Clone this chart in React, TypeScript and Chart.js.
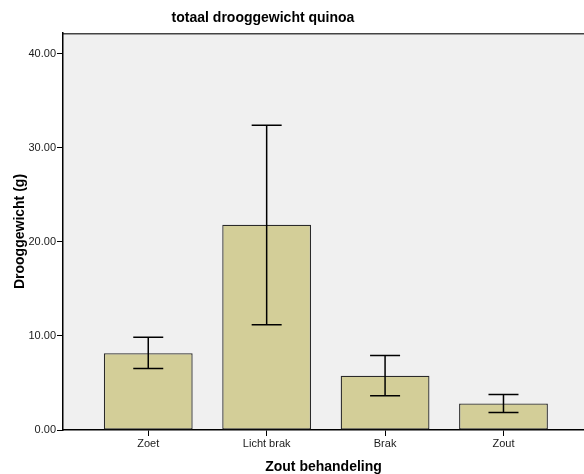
import React, { useEffect, useRef } from 'react';
import { Chart, registerables } from 'chart.js';

Chart.register(...registerables);

const chartTitle = 'totaal drooggewicht quinoa';
const xTitle = 'Zout behandeling';
const yTitle = 'Drooggewicht (g)';

const categories = ['Zoet', 'Licht brak', 'Brak', 'Zout'];
const means = [8.17, 21.83, 5.77, 2.82];
const errUpper = [9.87, 32.4, 7.93, 3.78];
const errLower = [6.54, 11.19, 3.64, 1.86];
const yTicks = [0, 10, 20, 30, 40];

const FONT = "'Liberation Sans', Arial, sans-serif";

export default function App() {
  const ref = useRef<HTMLCanvasElement>(null);

  useEffect(() => {
    document.body.style.margin = '0';
    document.body.style.overflow = 'hidden';
    const canvas = ref.current;
    if (!canvas) return;

    const background = {
      id: 'plotBackground',
      beforeDraw(chart: any) {
        const { ctx, chartArea } = chart;
        const { left, top, right, bottom } = chartArea;
        ctx.save();
        ctx.fillStyle = '#ffffff';
        ctx.fillRect(0, 0, chart.width, chart.height);
        ctx.fillStyle = '#f0f0f0';
        ctx.fillRect(left, top, right - left, bottom - top);
        ctx.strokeStyle = '#444444';
        ctx.lineWidth = 1.5;
        ctx.beginPath();
        ctx.moveTo(left, top + 0.75);
        ctx.lineTo(right, top + 0.75);
        ctx.stroke();
        ctx.restore();
      },
    };

    const errorBars = {
      id: 'errorBars',
      afterDatasetsDraw(chart: any) {
        const { ctx } = chart;
        const xs = chart.scales.x;
        const ys = chart.scales.y;
        ctx.save();
        ctx.strokeStyle = '#000000';
        ctx.lineWidth = 1.5;
        const cap = 15;
        categories.forEach((_, i) => {
          const x = xs.getPixelForValue(i);
          const yt = ys.getPixelForValue(errUpper[i]);
          const yb = ys.getPixelForValue(errLower[i]);
          ctx.beginPath();
          ctx.moveTo(x, yt);
          ctx.lineTo(x, yb);
          ctx.moveTo(x - cap, yt);
          ctx.lineTo(x + cap, yt);
          ctx.moveTo(x - cap, yb);
          ctx.lineTo(x + cap, yb);
          ctx.stroke();
        });
        ctx.restore();
      },
    };

    const mainTitle = {
      id: 'mainTitle',
      afterDraw(chart: any) {
        const { ctx } = chart;
        ctx.save();
        ctx.font = `bold 14px ${FONT}`;
        ctx.fillStyle = '#000000';
        ctx.textAlign = 'center';
        ctx.textBaseline = 'alphabetic';
        ctx.fillText(chartTitle, 263, 22);
        ctx.restore();
      },
    };

    const chart = new Chart(canvas, {
      type: 'bar',
      data: {
        datasets: [
          {
            data: categories.map((_, i) => ({ x: i, y: means[i] })),
            backgroundColor: '#d3ce98',
            borderColor: '#2a2a2a',
            borderWidth: 1.3,
            borderSkipped: false,
            barPercentage: 0.75,
            categoryPercentage: 1,
          },
        ],
      },
      options: {
        animation: false,
        responsive: true,
        maintainAspectRatio: false,
        layout: { padding: { top: 33, left: 0, right: 0, bottom: 0 } },
        plugins: {
          legend: { display: false },
          tooltip: { enabled: false },
          title: { display: false },
        },
        scales: {
          x: {
            type: 'linear',
            min: -0.72,
            max: 3.68,
            offset: false,
            afterBuildTicks: (s: any) => {
              s.ticks = categories.map((_, i) => ({ value: i }));
            },
            afterFit: (s: any) => {
              s.height = 44;
            },
            ticks: {
              callback: (v: any) => categories[Math.round(Number(v))] ?? '',
              font: { family: FONT, size: 11 },
              color: '#1a1a1a',
              padding: 1,
              maxRotation: 0,
              autoSkip: false,
            },
            grid: {
              display: true,
              drawOnChartArea: false,
              drawTicks: true,
              tickLength: 6,
              color: '#000000',
              offset: false,
            },
            border: { display: true, color: '#000000', width: 1.5 },
            title: {
              display: true,
              text: xTitle,
              font: { family: FONT, size: 14, weight: 'bold', lineHeight: 0.95 },
              color: '#000000',
              padding: { top: 0, bottom: 0 },
            },
          },
          y: {
            type: 'linear',
            min: 0,
            max: 42.2,
            afterBuildTicks: (s: any) => {
              s.ticks = yTicks.map((v) => ({ value: v }));
            },
            afterFit: (s: any) => {
              s.width = 63;
            },
            ticks: {
              callback: (v: any) => Number(v).toFixed(2),
              font: { family: FONT, size: 11 },
              color: '#1a1a1a',
              padding: 1,
            },
            grid: {
              display: true,
              drawOnChartArea: false,
              drawTicks: true,
              tickLength: 6,
              color: '#000000',
            },
            border: { display: true, color: '#000000', width: 1.5 },
            title: {
              display: true,
              text: yTitle,
              font: { family: FONT, size: 14, weight: 'bold' },
              color: '#000000',
              padding: { top: 12, bottom: 0 },
            },
          },
        },
      } as any,
      plugins: [background, errorBars, mainTitle],
    });

    return () => {
      chart.destroy();
    };
  }, []);

  return (
    <div style={{ position: 'absolute', left: 0, top: 0, width: 584, height: 474 }}>
      <canvas ref={ref} />
    </div>
  );
}
